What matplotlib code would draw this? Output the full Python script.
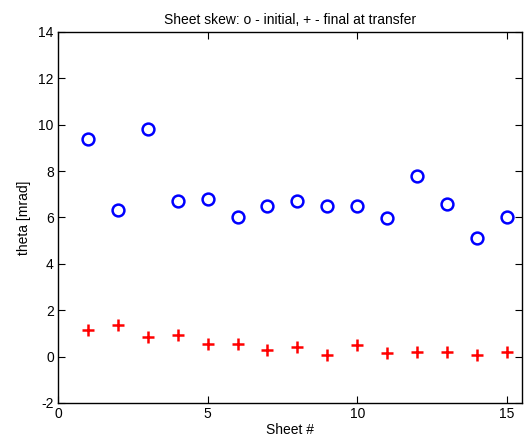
import numpy as np
import matplotlib
matplotlib.use("Agg")
import matplotlib.pyplot as plt

plt.rcParams["font.family"] = ["Liberation Sans", "DejaVu Sans"]
plt.rcParams["axes.unicode_minus"] = False

sheet = np.arange(1, 16)
theta_initial = [9.38, 6.3, 9.8, 6.7, 6.8, 6.02, 6.48, 6.7, 6.48, 6.48, 5.97, 7.8, 6.58, 5.13, 6.02]
theta_final = [1.15, 1.36, 0.84, 0.94, 0.56, 0.54, 0.28, 0.43, 0.08, 0.49, 0.16, 0.18, 0.18, 0.07, 0.18]

fig = plt.figure(figsize=(5.32, 4.43), dpi=100)
ax = fig.add_axes([0.109, 0.0903, 0.872, 0.8377])

ax.plot(sheet, theta_initial, "o", markersize=8.5, markerfacecolor="none",
        markeredgecolor="#0000ff", markeredgewidth=1.8)
ax.plot(sheet, theta_final, "+", markersize=9, markeredgecolor="#ff0000",
        markeredgewidth=1.8)

ax.set_xlim(0, 15.5)
ax.set_ylim(-2, 14)
ax.set_xticks([0, 5, 10, 15])
ax.set_yticks(np.arange(-2, 15, 2))
ax.tick_params(direction="in", length=5, width=0.8, labelsize=10,
               top=True, right=True, pad=3)
for s in ax.spines.values():
    s.set_linewidth(1.0)

ax.set_xlabel("Sheet #", fontsize=10, labelpad=1)
ax.set_ylabel("theta [mrad]", fontsize=10, labelpad=5)
ax.set_title("Sheet skew: o - initial, + - final at transfer", fontsize=10, pad=6)

fig.savefig("out.png", dpi=100)
